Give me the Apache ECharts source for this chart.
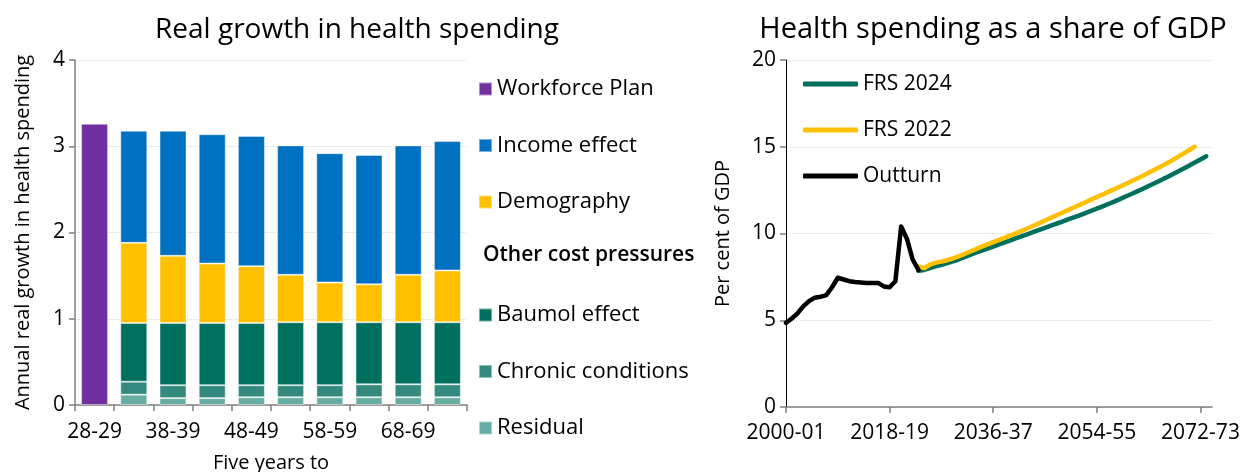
<!DOCTYPE html>
<html>
<head>
<meta charset="utf-8">
<script src="https://cdn.jsdelivr.net/npm/echarts@6/dist/echarts.min.js"></script>
<style>
  html, body { margin: 0; padding: 0; background: #fff; }
  #chart { width: 1247px; height: 472px; }
</style>
</head>
<body>
<div id="chart"></div>
<script>
// left panel: five years to ...
const periods = ['28-29', '33-34', '38-39', '43-44', '48-49', '53-54', '58-59', '63-64', '68-69', '73-74'];
const workforcePlan = [3.26, '-', '-', '-', '-', '-', '-', '-', '-', '-'];
const incomeEffect = ['-', 1.30, 1.45, 1.50, 1.51, 1.50, 1.50, 1.50, 1.50, 1.50];
const demography = ['-', 0.93, 0.78, 0.69, 0.66, 0.55, 0.46, 0.44, 0.55, 0.60];
const baumol = ['-', 0.68, 0.72, 0.72, 0.72, 0.73, 0.73, 0.72, 0.72, 0.72];
const chronic = ['-', 0.15, 0.15, 0.15, 0.14, 0.14, 0.14, 0.15, 0.15, 0.15];
const residual = ['-', 0.12, 0.08, 0.08, 0.09, 0.09, 0.09, 0.09, 0.09, 0.09];

// right panel: fiscal years 2000-01 .. 2074-75
const firstYear = 2000;
const yearCount = 75;
const years = [];
for (let i = 0; i < yearCount; i++) {
  const y = firstYear + i;
  years.push(y + '-' + String((y + 1) % 100).padStart(2, '0'));
}
const yearTickLabels = ['2000-01', '2018-19', '2036-37', '2054-55', '2072-73'];

// outturn 2000-01 .. 2023-24
const outturn = [4.85, 5.1, 5.4, 5.8, 6.1, 6.3, 6.35, 6.45, 6.9, 7.45,
  7.35, 7.25, 7.2, 7.18, 7.15, 7.15, 7.15, 6.95, 6.9, 7.25,
  10.4, 9.7, 8.5, 7.9];
const outturnStart = '2000-01';

// FRS 2024 projection 2023-24 .. 2073-74
const frs2024 = [7.85, 7.9, 8.0, 8.1, 8.2, 8.3, 8.4, 8.5, 8.63, 8.76,
  8.89, 9.01, 9.13, 9.25, 9.37, 9.49, 9.61, 9.73, 9.85, 9.97,
  10.09, 10.21, 10.33, 10.45, 10.57, 10.69, 10.81, 10.93, 11.05, 11.17,
  11.3, 11.43, 11.56, 11.7, 11.84, 11.98, 12.13, 12.28, 12.43, 12.58,
  12.74, 12.9, 13.06, 13.22, 13.39, 13.56, 13.73, 13.91, 14.09, 14.27,
  14.45];
const frs2024Start = '2023-24';

// FRS 2022 projection 2023-24 .. 2071-72
const frs2022 = [8.1, 8.0, 8.2, 8.32, 8.38, 8.46, 8.56, 8.68, 8.82, 8.96,
  9.1, 9.24, 9.37, 9.5, 9.63, 9.76, 9.89, 10.02, 10.16, 10.3,
  10.45, 10.6, 10.75, 10.9, 11.05, 11.2, 11.35, 11.5, 11.65, 11.8,
  11.95, 12.1, 12.25, 12.4, 12.55, 12.7, 12.85, 13.01, 13.17, 13.33,
  13.5, 13.68, 13.85, 14.02, 14.2, 14.4, 14.6, 14.8, 15.0];
const frs2022Start = '2023-24';

function place(values, start) {
  const out = new Array(years.indexOf(start)).fill(null);
  return out.concat(values);
}

const FONT = '"Open Sans", sans-serif';
const barColors = {
  workforce: '#7030A0',
  income: '#0070C0',
  demography: '#FFC000',
  baumol: '#00705E',
  chronic: '#348A7F',
  residual: '#66ADA3'
};

function barSeries(name, data, color) {
  return {
    name: name,
    type: 'bar',
    stack: 'total',
    xAxisIndex: 0,
    yAxisIndex: 0,
    barWidth: 27,
    data: data,
    itemStyle: { color: color, borderColor: 'rgba(255,255,255,0.45)', borderWidth: 1 }
  };
}

function lineSeries(name, data, color) {
  return {
    name: name,
    type: 'line',
    xAxisIndex: 1,
    yAxisIndex: 1,
    data: data,
    showSymbol: false,
    symbol: 'none',
    connectNulls: false,
    lineStyle: { color: color, width: 4.5, cap: 'round', join: 'round' },
    itemStyle: { color: color }
  };
}

const chart = echarts.init(document.getElementById('chart'));

const option = {
  animation: false,
  textStyle: { fontFamily: FONT, color: '#000' },
  title: [
    {
      text: 'Real growth in health spending',
      left: 352, top: 11, textAlign: 'center',
      textStyle: { fontFamily: FONT, fontSize: 28, fontWeight: 'normal', color: '#000' }
    },
    {
      text: 'Health spending as a share of GDP',
      left: 988, top: 10, textAlign: 'center',
      textStyle: { fontFamily: FONT, fontSize: 29, fontWeight: 'normal', color: '#000' }
    }
  ],
  legend: [
    {
      orient: 'vertical', left: 478, top: 77, padding: 0,
      itemWidth: 13, itemHeight: 13, itemGap: 32.5, icon: 'rect',
      textStyle: { fontFamily: FONT, fontSize: 22, lineHeight: 24, color: '#000' },
      data: ['Workforce Plan', 'Income effect', 'Demography']
    },
    {
      orient: 'vertical', left: 478, top: 303, padding: 0,
      itemWidth: 13, itemHeight: 13, itemGap: 32.5, icon: 'rect',
      textStyle: { fontFamily: FONT, fontSize: 22, lineHeight: 24, color: '#000' },
      data: ['Baumol effect', 'Chronic conditions', 'Residual']
    },
    {
      orient: 'vertical', left: 803, top: 72, padding: 0,
      itemWidth: 55, itemHeight: 5, itemGap: 22, icon: 'roundRect',
      textStyle: { fontFamily: FONT, fontSize: 21, lineHeight: 24, color: '#000' },
      data: ['FRS 2024', 'FRS 2022', 'Outturn']
    }
  ],
  graphic: [
    {
      type: 'text', left: 483, top: 245,
      style: { text: 'Other cost pressures', font: '600 21px ' + FONT, fill: '#000' }
    }
  ],
  grid: [
    { left: 75, right: 780, top: 60, bottom: 67, outerBoundsMode: 'none' },
    { left: 786, right: 35, top: 60, bottom: 65, outerBoundsMode: 'none' }
  ],
  xAxis: [
    {
      gridIndex: 0, type: 'category', data: periods,
      name: 'Five years to', nameLocation: 'middle', nameGap: 48,
      nameTextStyle: { fontFamily: FONT, fontSize: 20, color: '#000' },
      axisLine: { lineStyle: { color: '#808080', width: 1.5 } },
      axisTick: { show: true, interval: 0, length: 6, lineStyle: { color: '#808080', width: 1.5 } },
      axisLabel: { interval: 1, fontSize: 21, color: '#000', margin: 17, fontFamily: FONT }
    },
    {
      gridIndex: 1, type: 'category', data: years, boundaryGap: false,
      axisLine: { onZero: false, lineStyle: { color: '#808080', width: 1.5 } },
      axisTick: { show: true, length: 6, lineStyle: { color: '#808080', width: 1.5 },
        interval: (i, v) => yearTickLabels.includes(v) },
      axisLabel: { fontSize: 21, color: '#000', margin: 16, fontFamily: FONT,
        interval: (i, v) => yearTickLabels.includes(v) }
    }
  ],
  yAxis: [
    {
      gridIndex: 0, type: 'value', min: 0, max: 4, interval: 1,
      name: 'Annual real growth in health spending', nameLocation: 'middle', nameGap: 42,
      nameTextStyle: { fontFamily: FONT, fontSize: 20, color: '#000' },
      axisLine: { show: true, lineStyle: { color: '#808080', width: 1.5 } },
      axisTick: { show: true, length: 6, lineStyle: { color: '#808080', width: 1.5 } },
      axisLabel: { fontSize: 21, color: '#000', margin: 10, fontFamily: FONT },
      splitLine: { show: true, lineStyle: { color: '#d9d9d9', type: 'dotted', width: 1 } }
    },
    {
      gridIndex: 1, type: 'value', min: 0, max: 20, interval: 5,
      name: 'Per cent of GDP', nameLocation: 'middle', nameGap: 53,
      nameTextStyle: { fontFamily: FONT, fontSize: 20, color: '#000' },
      axisLine: { show: true, lineStyle: { color: '#000', width: 1 } },
      axisTick: { show: true, length: 6, lineStyle: { color: '#808080', width: 1.5 } },
      axisLabel: { fontSize: 21, color: '#000', margin: 10, fontFamily: FONT },
      splitLine: { show: true, lineStyle: { color: '#d9d9d9', type: 'dotted', width: 1 } }
    }
  ],
  series: [
    barSeries('Workforce Plan', workforcePlan, barColors.workforce),
    barSeries('Residual', residual, barColors.residual),
    barSeries('Chronic conditions', chronic, barColors.chronic),
    barSeries('Baumol effect', baumol, barColors.baumol),
    barSeries('Demography', demography, barColors.demography),
    barSeries('Income effect', incomeEffect, barColors.income),
    lineSeries('FRS 2024', place(frs2024, frs2024Start), '#00705E'),
    lineSeries('FRS 2022', place(frs2022, frs2022Start), '#FFC000'),
    lineSeries('Outturn', place(outturn, outturnStart), '#000000')
  ]
};

chart.setOption(option);
</script>
</body>
</html>
